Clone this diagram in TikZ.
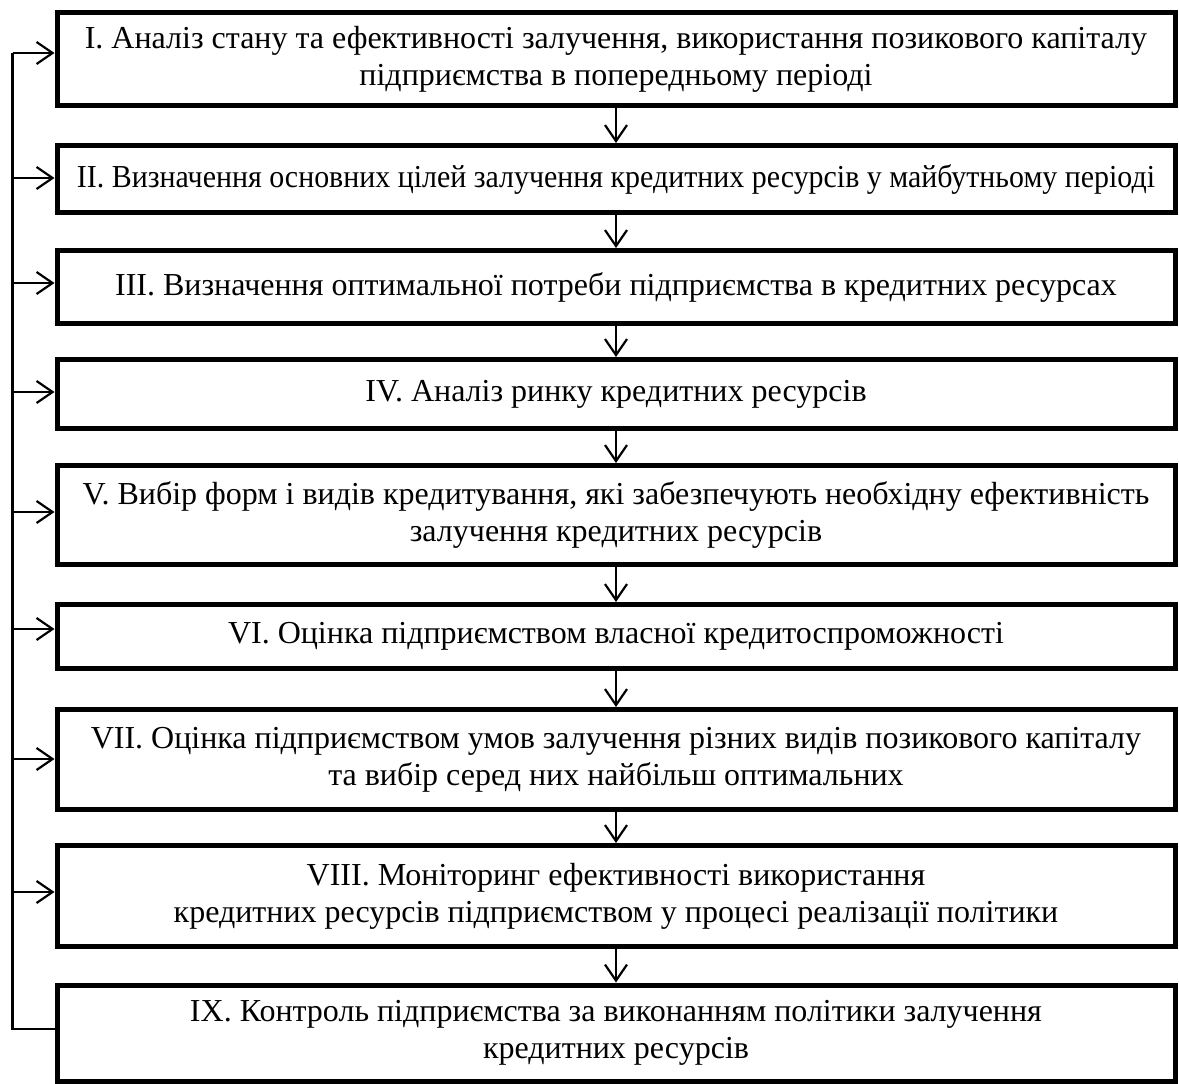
\documentclass[tikz,border=0pt]{standalone}
\usepackage{fontspec}
\setmainfont{Liberation Serif}
\newfontfamily\condensedserif[FakeStretch=0.935]{Liberation Serif}
\usetikzlibrary{arrows.meta}
\begin{document}
\begin{tikzpicture}[x=1pt,y=-1pt,
  box/.style={draw, line width=5pt, minimum width=1118pt, inner sep=0pt, align=center,
    font=\fontsize{32}{37}\selectfont},
  narrow/.style={font=\condensedserif\fontsize{32}{37}\selectfont},
  arr/.style={line width=2.2pt, -{Straight Barb[length=16pt,width=22pt]}},
  bus/.style={line width=2.2pt}]
\useasboundingbox (0,0) rectangle (1179,1084);
\node[box, minimum height=93pt] (b1) at (616,59) {I. Аналіз стану та ефективності залучення, використання позикового капіталу\\підприємства в попередньому періоді};
\node[box, narrow, minimum height=67pt] (b2) at (616,179) {II. Визначення основних цілей залучення кредитних ресурсів у майбутньому періоді};
\node[box, minimum height=73pt] (b3) at (616,287) {III. Визначення оптимальної потреби підприємства в кредитних ресурсах};
\node[box, minimum height=69pt] (b4) at (616,394) {IV. Аналіз ринку кредитних ресурсів};
\node[box, minimum height=99pt] (b5) at (616,515) {V. Вибір форм і видів кредитування, які забезпечують необхідну ефективність\\залучення кредитних ресурсів};
\node[box, minimum height=64pt] (b6) at (616,636.5) {VI. Оцінка підприємством власної кредитоспроможності};
\node[box, minimum height=100pt] (b7) at (616,759.5) {VII. Оцінка підприємством умов залучення різних видів позикового капіталу\\та вибір серед них найбільш оптимальних};
\node[box, minimum height=101pt] (b8) at (616,896) {VIII. Моніторинг ефективності використання\\кредитних ресурсів підприємством у процесі реалізації політики};
\node[box, minimum height=96pt] (b9) at (616,1033) {IX. Контроль підприємства за виконанням політики залучення\\кредитних ресурсів};
\foreach \a/\b in {b1/b2,b2/b3,b3/b4,b4/b5,b5/b6,b6/b7,b7/b8,b8/b9}
  \draw[arr] (\a.south) -- (\b.north);
\coordinate (l1) at (12.5,53);
\coordinate (l2) at (12.5,178);
\coordinate (l3) at (12.5,283);
\coordinate (l4) at (12.5,392);
\coordinate (l5) at (12.5,512);
\coordinate (l6) at (12.5,629);
\coordinate (l7) at (12.5,759);
\coordinate (l8) at (12.5,892);
\coordinate (l9) at (12.5,1029);
\draw[bus] (l9 -| b9.west) -- (l9) -- (l1);
\foreach \i in {1,...,8}
  \draw[arr] (l\i) -- (l\i -| b\i.west);
\end{tikzpicture}
\end{document}
